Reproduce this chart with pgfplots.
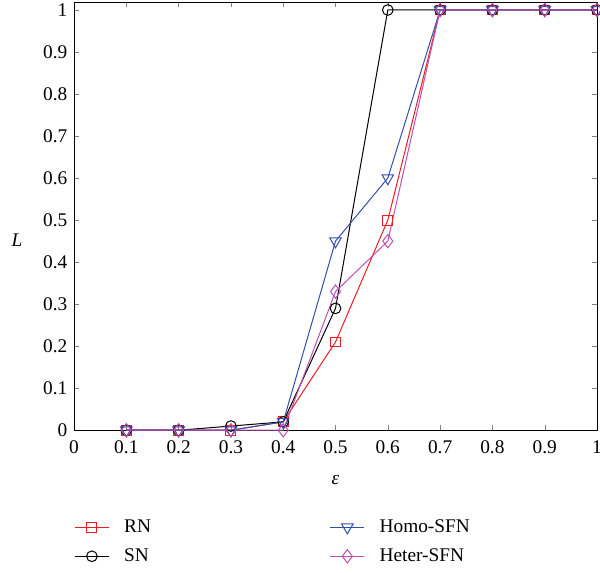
\documentclass[border=0pt]{standalone}
\usepackage{pgfplots}
\pgfplotsset{compat=1.18}
\usepackage{fontspec}
\setmainfont{Liberation Serif}
\definecolor{cRN}{RGB}{237,28,36}
\definecolor{cHomo}{RGB}{50,80,170}
\definecolor{cHeter}{RGB}{190,80,180}
\begin{document}
\fontsize{14.5}{17}\selectfont
\begin{tikzpicture}
\begin{axis}[
  scale only axis,
  width=392pt, height=321pt,
  xmin=0, xmax=1, ymin=0, ymax=1.019,
  xtick={0,0.1,...,1.01}, ytick={0,0.1,...,1.01},
  xticklabels={0,0.1,0.2,0.3,0.4,0.5,0.6,0.7,0.8,0.9,1},
  yticklabels={0,0.1,0.2,0.3,0.4,0.5,0.6,0.7,0.8,0.9,1},
  tick align=inside,
  tick pos=both,
  major tick length=4pt,
  /pgf/number format/assume math mode=true,
  tick label style={font=\fontsize{14.5}{17}\selectfont},
  xticklabel style={yshift=-3pt},
  xlabel={\textit{ε}},
  ylabel={\textit{L}},
  ylabel style={at={(axis description cs:-0.109,0.444)}, rotate=-90, anchor=center},
  xlabel style={at={(axis description cs:0.5,-0.117)}, anchor=center},
  every axis plot/.append style={line width=0.75pt},
  legend columns=2,
  transpose legend,
  legend cell align=left,
  legend image code/.code={\draw[mark repeat=2,mark phase=2] plot coordinates {(0cm,0cm) (0.45cm,0cm) (0.9cm,0cm)};},
  legend style={draw=none, at={(axis description cs:0,-0.195)}, anchor=north west, xshift=-3pt,
    font=\fontsize{14.5}{17}\selectfont, column sep=9pt, row sep=6pt,
    /tikz/column 2/.style={column sep=132pt}},
]
\addplot[color=cRN, mark=square, mark size=3.7pt] coordinates {
(0.1,0) (0.2,0) (0.3,0) (0.4,0.02) (0.5,0.21) (0.6,0.5) (0.7,1) (0.8,1) (0.9,1) (1,1)};
\addlegendentry{RN}
\addplot[color=black, mark=o, mark size=4pt] coordinates {
(0.1,0) (0.2,0) (0.3,0.01) (0.4,0.02) (0.5,0.29) (0.6,1) (0.7,1) (0.8,1) (0.9,1) (1,1)};
\addlegendentry{SN}
\addplot[color=cHomo, mark=triangle, mark size=5pt, mark options={rotate=180}] coordinates {
(0.1,0) (0.2,0) (0.3,0) (0.4,0.02) (0.5,0.45) (0.6,0.6) (0.7,1) (0.8,1) (0.9,1) (1,1)};
\addlegendentry{Homo-SFN}
\addplot[color=cHeter, mark=diamond, mark size=5pt] coordinates {
(0.1,0) (0.2,0) (0.3,0) (0.4,0) (0.5,0.33) (0.6,0.45) (0.7,1) (0.8,1) (0.9,1) (1,1)};
\addlegendentry{Heter-SFN}
\coordinate (SW) at (rel axis cs:0,0);
\coordinate (NE) at (rel axis cs:1,1);
\end{axis}
\pgfresetboundingbox
\useasboundingbox ([shift={(-55.5pt,-106.5pt)}]SW) rectangle ([shift={(2.25pt,1.5pt)}]NE);
\end{tikzpicture}
\end{document}
